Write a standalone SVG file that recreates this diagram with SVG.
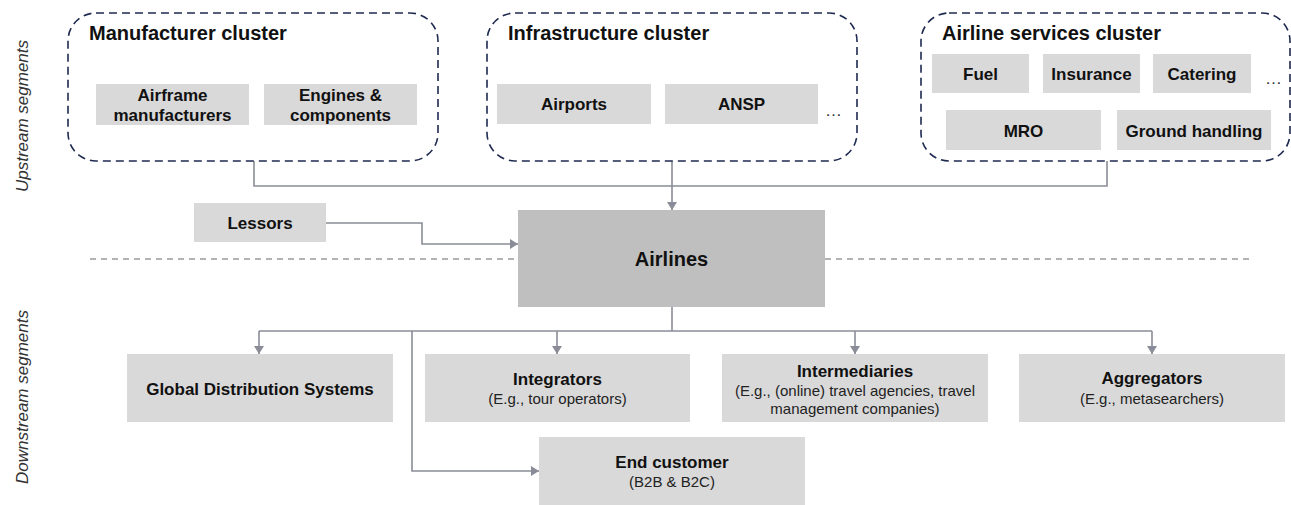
<svg xmlns="http://www.w3.org/2000/svg" width="1291" height="505" viewBox="0 0 1291 505">
  <style>
    .bg { fill: #ffffff; }
    .cluster { fill: none; stroke: #1f2a50; stroke-width: 1.6; stroke-dasharray: 8 5; }
    .box { fill: #d9d9d9; }
    .core { fill: #bfbfbf; }
    .t { font-family: "Liberation Sans", Arial, sans-serif; fill: #111111; text-anchor: middle; }
    .title { font-family: "Liberation Sans", Arial, sans-serif; font-weight: bold; font-size: 20px; fill: #111111; }
    .lbl { font-weight: bold; font-size: 17px; }
    .sub { font-size: 15px; fill: #222222; }
    .big { font-weight: bold; font-size: 20px; }
    .dots { font-family: "Liberation Sans", Arial, sans-serif; font-size: 17px; fill: #333333; }
    .side { font-family: "Liberation Sans", Arial, sans-serif; font-style: italic; font-size: 17px; fill: #333333; text-anchor: middle; }
    .sep { fill: none; stroke: #9a9a9a; stroke-width: 1.4; stroke-dasharray: 6 5; }
    .link { fill: none; stroke: #8a8d97; stroke-width: 1.6; }
    .arrow { fill: none; stroke: #8a8d97; stroke-width: 1.6; marker-end: url(#head); }
  </style>
  <defs>
    <marker id="head" markerUnits="userSpaceOnUse" markerWidth="10" markerHeight="10" refX="8" refY="5" orient="auto">
      <path d="M0,0 L8,5 L0,10 z" fill="#8a8d97"/>
    </marker>
  </defs>

  <rect class="bg" x="0" y="0" width="1291" height="505"/>

  <!-- segment labels -->
  <text class="side" transform="translate(28,116) rotate(-90)">Upstream segments</text>
  <text class="side" transform="translate(28,397) rotate(-90)">Downstream segments</text>

  <!-- upstream / downstream divider -->
  <line class="sep" x1="90" y1="259" x2="518" y2="259"/>
  <line class="sep" x1="825" y1="259" x2="1253" y2="259"/>

  <!-- connectors -->
  <g id="connectors">
    <polyline class="link" points="254,161 254,186 1107,186 1107,161"/>
    <line class="arrow" x1="672" y1="161" x2="672" y2="210"/>
    <polyline class="arrow" points="326,223 422,223 422,244 518,244"/>
    <line class="link" x1="672" y1="307" x2="672" y2="331"/>
    <line class="link" x1="259" y1="331" x2="1152" y2="331"/>
    <line class="arrow" x1="259" y1="331" x2="259" y2="354"/>
    <line class="arrow" x1="557" y1="331" x2="557" y2="354"/>
    <line class="arrow" x1="855" y1="331" x2="855" y2="354"/>
    <line class="arrow" x1="1152" y1="331" x2="1152" y2="354"/>
    <polyline class="arrow" points="412,331 412,471 539,471"/>
  </g>

  <!-- upstream clusters -->
  <g id="manufacturer-cluster">
    <rect class="cluster" x="68" y="13" width="370" height="148" rx="28" ry="28"/>
    <text class="title" x="89" y="40">Manufacturer cluster</text>
  </g>
  <g id="airframe">
    <rect class="box" x="96" y="84" width="153" height="41"/>
    <text class="t lbl" x="172.5" y="100.5">Airframe</text>
    <text class="t lbl" x="172.5" y="120.5">manufacturers</text>
  </g>
  <g id="engines">
    <rect class="box" x="264" y="84" width="153" height="41"/>
    <text class="t lbl" x="340.5" y="100.5">Engines &amp;</text>
    <text class="t lbl" x="340.5" y="120.5">components</text>
  </g>

  <g id="infrastructure-cluster">
    <rect class="cluster" x="487" y="13" width="370" height="148" rx="28" ry="28"/>
    <text class="title" x="508" y="40">Infrastructure cluster</text>
    <text class="dots" x="825" y="116">…</text>
  </g>
  <g id="airports">
    <rect class="box" x="497" y="84" width="154" height="40"/>
    <text class="t lbl" x="574" y="110">Airports</text>
  </g>
  <g id="ansp">
    <rect class="box" x="665" y="84" width="153" height="40"/>
    <text class="t lbl" x="741.5" y="110">ANSP</text>
  </g>

  <g id="airline-services-cluster">
    <rect class="cluster" x="921" y="13" width="369" height="148" rx="28" ry="28"/>
    <text class="title" x="942" y="40">Airline services cluster</text>
    <text class="dots" x="1265" y="84">…</text>
  </g>
  <g id="fuel">
    <rect class="box" x="932" y="54" width="97" height="39"/>
    <text class="t lbl" x="980.5" y="80">Fuel</text>
  </g>
  <g id="insurance">
    <rect class="box" x="1043" y="54" width="97" height="39"/>
    <text class="t lbl" x="1091.5" y="80">Insurance</text>
  </g>
  <g id="catering">
    <rect class="box" x="1153" y="54" width="98" height="39"/>
    <text class="t lbl" x="1202" y="80">Catering</text>
  </g>
  <g id="mro">
    <rect class="box" x="946" y="110" width="155" height="40"/>
    <text class="t lbl" x="1023.5" y="136.5">MRO</text>
  </g>
  <g id="ground-handling">
    <rect class="box" x="1117" y="110" width="154" height="40"/>
    <text class="t lbl" x="1194" y="136.5">Ground handling</text>
  </g>

  <g id="lessors">
    <rect class="box" x="194" y="203" width="132" height="39"/>
    <text class="t lbl" x="260" y="229">Lessors</text>
  </g>

  <g id="airlines">
    <rect class="core" x="518" y="210" width="307" height="97"/>
    <text class="t big" x="671.5" y="266">Airlines</text>
  </g>

  <!-- downstream segments -->
  <g id="gds">
    <rect class="box" x="127" y="354" width="266" height="68"/>
    <text class="t lbl" x="260" y="395">Global Distribution Systems</text>
  </g>
  <g id="integrators">
    <rect class="box" x="425" y="354" width="265" height="68"/>
    <text class="t lbl" x="557.5" y="385">Integrators</text>
    <text class="t sub" x="557.5" y="404">(E.g., tour operators)</text>
  </g>
  <g id="intermediaries">
    <rect class="box" x="722" y="354" width="266" height="68"/>
    <text class="t lbl" x="855" y="377">Intermediaries</text>
    <text class="t sub" x="855" y="396">(E.g., (online) travel agencies, travel</text>
    <text class="t sub" x="855" y="414">management companies)</text>
  </g>
  <g id="aggregators">
    <rect class="box" x="1019" y="354" width="266" height="68"/>
    <text class="t lbl" x="1152" y="384">Aggregators</text>
    <text class="t sub" x="1152" y="404">(E.g., metasearchers)</text>
  </g>
  <g id="end-customer">
    <rect class="box" x="539" y="437" width="266" height="68"/>
    <text class="t lbl" x="672" y="468">End customer</text>
    <text class="t sub" x="672" y="487">(B2B &amp; B2C)</text>
  </g>
</svg>
